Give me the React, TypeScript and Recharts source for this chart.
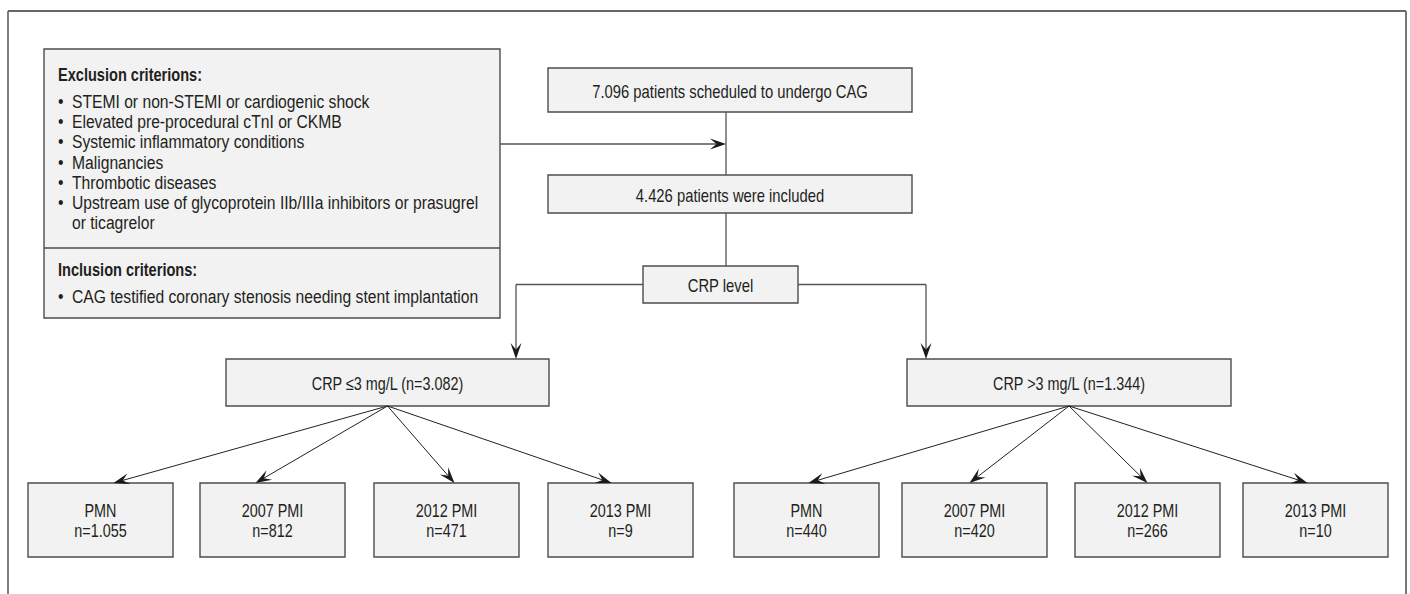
import { ComposedChart, XAxis, YAxis, ReferenceArea, ReferenceLine, Scatter } from 'recharts'

// flowchart drawn on a 1410 x 594 layout grid (axis units == px)
const W = 1410
const H = 594
const FONT = '"Liberation Sans", Arial, sans-serif'
const SQUEEZE = 0.8 // fake the condensed face, no narrow font installed
const LIST_SQUEEZE = 0.87
const INK = '#231f20'
const BOX_FILL = '#f2f2f2'
const BOX_STROKE = '#4d4d4d'
const LINE = '#555'

// ---- data ----
const exclusionTitle = 'Exclusion criterions:'
const exclusionItems = [
  ['STEMI or non-STEMI or cardiogenic shock'],
  ['Elevated pre-procedural cTnI or CKMB'],
  ['Systemic inflammatory conditions'],
  ['Malignancies'],
  ['Thrombotic diseases'],
  ['Upstream use of glycoprotein IIb/IIIa inhibitors or prasugrel', 'or ticagrelor'],
]
const inclusionTitle = 'Inclusion criterions:'
const inclusionItems = [['CAG testified coronary stenosis needing stent implantation']]

const scheduled = '7.096 patients scheduled to undergo CAG'
const included = '4.426 patients were included'
const splitLabel = 'CRP level'
const groups = ['CRP \u22643 mg/L (n=3.082)', 'CRP >3 mg/L (n=1.344)']
const subtypes = ['PMN', '2007 PMI', '2012 PMI', '2013 PMI']
const lowCrpCounts = ['1.055', '812', '471', '9']
const highCrpCounts = ['440', '420', '266', '10']

// ---- layout ----
const criteriaBox = { x1: 44, x2: 500, y1: 49, y2: 318, divider: 248 }
const topBox = { x1: 548, x2: 912, y1: 68, y2: 112 }
const inclBox = { x1: 548, x2: 912, y1: 175, y2: 213 }
const crpBox = { x1: 643, x2: 798, y1: 266, y2: 303 }
const groupBoxes = [
  { x1: 226, x2: 549, y1: 359, y2: 406, drop: 516 },
  { x1: 907, x2: 1231, y1: 359, y2: 406, drop: 926 },
]
const leafLefts = [
  [28, 200, 374, 548],
  [734, 902, 1075, 1243],
]
const tipShift = [
  [13, -17, 8, -9],
  [2, -5, 0, -8],
]
const LEAF_W = 145
const LEAF_Y1 = 483
const LEAF_Y2 = 557
const spine = (topBox.x1 + topBox.x2) / 2 - 4

const Arrow = (color: string, width: number) => (p: any) => {
  const { x1, y1, x2, y2 } = p
  const dx = x2 - x1
  const dy = y2 - y1
  const len = Math.hypot(dx, dy) || 1
  const ux = dx / len
  const uy = dy / len
  const L = 16
  const hw = 5.5
  const bx = x2 - ux * L
  const by = y2 - uy * L
  const nx = x2 - ux * L * 0.6
  const ny = y2 - uy * L * 0.6
  const pts = [
    [x2, y2],
    [bx - uy * hw, by + ux * hw],
    [nx, ny],
    [bx + uy * hw, by - ux * hw],
  ].map(q => q.join(',')).join(' ')
  return (
    <g>
      <line x1={x1} y1={y1} x2={nx} y2={ny} stroke={color} strokeWidth={width} />
      <polygon points={pts} fill="#1a1a1a" />
    </g>
  )
}

const centered = (lines: string[], size: number, gap: number, dy = 0) => (p: any) => {
  const vb = p.viewBox
  const cx = vb.x + vb.width / 2
  const cy = vb.y + vb.height / 2 + dy
  const first = cy - ((lines.length - 1) * gap) / 2 + size * 0.36
  return (
    <text fontFamily={FONT} fontSize={size} fill={INK} textAnchor="middle"
      transform={`translate(${cx},0) scale(${SQUEEZE},1)`}>
      {lines.map((l, i) => (
        <tspan key={i} x={0} y={first + i * gap}>{l}</tspan>
      ))}
    </text>
  )
}

const narrow = (key: string, x: number, y: number, s: string, sq: number, bold = false) => (
  <text key={key} transform={`translate(${x},${y}) scale(${sq},1)`} fontWeight={bold ? 'bold' : 'normal'}>{s}</text>
)

const criteriaText = (p: any) => {
  const vb = p.viewBox
  const left = vb.x + 14
  const rows: any[] = []
  let y = vb.y + 32
  rows.push(narrow('t1', left, y, exclusionTitle, 0.81, true))
  y += 27
  exclusionItems.forEach((item, i) => {
    item.forEach((line, j) => {
      if (j === 0) rows.push(narrow(`b${i}`, left, y, '\u2022', LIST_SQUEEZE))
      rows.push(narrow(`e${i}-${j}`, left + 14, y, line, LIST_SQUEEZE))
      y += 20.2
    })
  })
  y = vb.y + 227
  rows.push(narrow('t2', left, y, inclusionTitle, 0.81, true))
  y += 27
  inclusionItems.forEach((item, i) => {
    rows.push(narrow(`ib${i}`, left, y, '\u2022', LIST_SQUEEZE))
    rows.push(narrow(`i${i}`, left + 14, y, item[0], LIST_SQUEEZE))
  })
  return (
    <g fontFamily={FONT} fontSize={18} fill={INK}>{rows}</g>
  )
}

const anchor = [{ x: 0, y: 0 }, { x: W, y: H }]

export default function App() {
  const boxStyle = { fill: BOX_FILL, fillOpacity: 1, stroke: BOX_STROKE, strokeWidth: 1.4, ifOverflow: 'visible' as const }
  const line = (key: string, a: [number, number], b: [number, number], color = LINE, w = 1.3) => (
    <ReferenceLine key={key} segment={[{ x: a[0], y: a[1] }, { x: b[0], y: b[1] }]}
      stroke={color} strokeWidth={w} ifOverflow="visible" />
  )
  const arrow = (key: string, a: [number, number], b: [number, number], color = LINE, w = 1.3) => (
    <ReferenceLine key={key} segment={[{ x: a[0], y: a[1] }, { x: b[0], y: b[1] }]}
      ifOverflow="visible" shape={Arrow(color, w)} />
  )
  const counts = [lowCrpCounts, highCrpCounts]

  return (
    <div style={{ position: 'absolute', left: 0, top: 0, width: W, height: H, background: '#fff' }}>
      <ComposedChart width={W} height={H} data={anchor} margin={{ top: 0, right: 0, bottom: 0, left: 0 }}>
        <XAxis type="number" dataKey="x" domain={[0, W]} hide allowDataOverflow />
        <YAxis type="number" dataKey="y" domain={[0, H]} reversed hide allowDataOverflow />
        <Scatter dataKey="y" fill="none" isAnimationActive={false} shape={() => <g />} />

        {/* outer frame */}
        {line('fT', [8, 11], [1406, 11], '#333', 1.5)}
        {line('fL', [8, 11], [8, H], '#555', 1.5)}
        {line('fR', [1406, 11], [1406, H], '#777', 2)}

        {/* criteria panel */}
        <ReferenceArea {...criteriaBox} {...boxStyle} label={criteriaText} />
        {line('div', [criteriaBox.x1, criteriaBox.divider], [criteriaBox.x2, criteriaBox.divider], BOX_STROKE, 1.4)}

        {/* trunk */}
        {line('s1', [spine, topBox.y2], [spine, inclBox.y1])}
        {arrow('ex', [criteriaBox.x2, 144], [spine, 144])}
        {line('s2', [spine, inclBox.y2], [spine, crpBox.y1])}
        <ReferenceArea {...topBox} {...boxStyle} label={centered([scheduled], 18.5, 20, 1)} />
        <ReferenceArea {...inclBox} {...boxStyle} label={centered([included], 18.5, 20, 1)} />
        <ReferenceArea {...crpBox} {...boxStyle} label={centered([splitLabel], 18.5, 20, 1)} />

        {/* split to CRP groups */}
        {groupBoxes.map((g, gi) => {
          const cy = (crpBox.y1 + crpBox.y2) / 2
          const from = gi === 0 ? crpBox.x1 : crpBox.x2
          return [
            line(`h${gi}`, [from, cy], [g.drop, cy]),
            arrow(`d${gi}`, [g.drop, cy], [g.drop, g.y1], '#333', 1.1),
          ]
        })}
        {groupBoxes.map((g, gi) => (
          <ReferenceArea key={`g${gi}`} {...g} {...boxStyle} label={centered([groups[gi]], 18, 20, 1)} />
        ))}

        {/* leaves */}
        {groupBoxes.map((g, gi) => {
          const ox = (g.x1 + g.x2) / 2
          return subtypes.map((s, i) => {
            const x1 = leafLefts[gi][i]
            const tip = x1 + LEAF_W / 2 + tipShift[gi][i]
            return arrow(`a${gi}-${i}`, [ox, g.y2], [tip, LEAF_Y1], '#222', 1)
          })
        })}
        {groupBoxes.map((g, gi) => subtypes.map((s, i) => {
          const x1 = leafLefts[gi][i]
          return (
            <ReferenceArea key={`l${gi}-${i}`} x1={x1} x2={x1 + LEAF_W} y1={LEAF_Y1} y2={LEAF_Y2}
              {...boxStyle} label={centered([s, `n=${counts[gi][i]}`], 18, 20, 1)} />
          )
        }))}
      </ComposedChart>
    </div>
  )
}
